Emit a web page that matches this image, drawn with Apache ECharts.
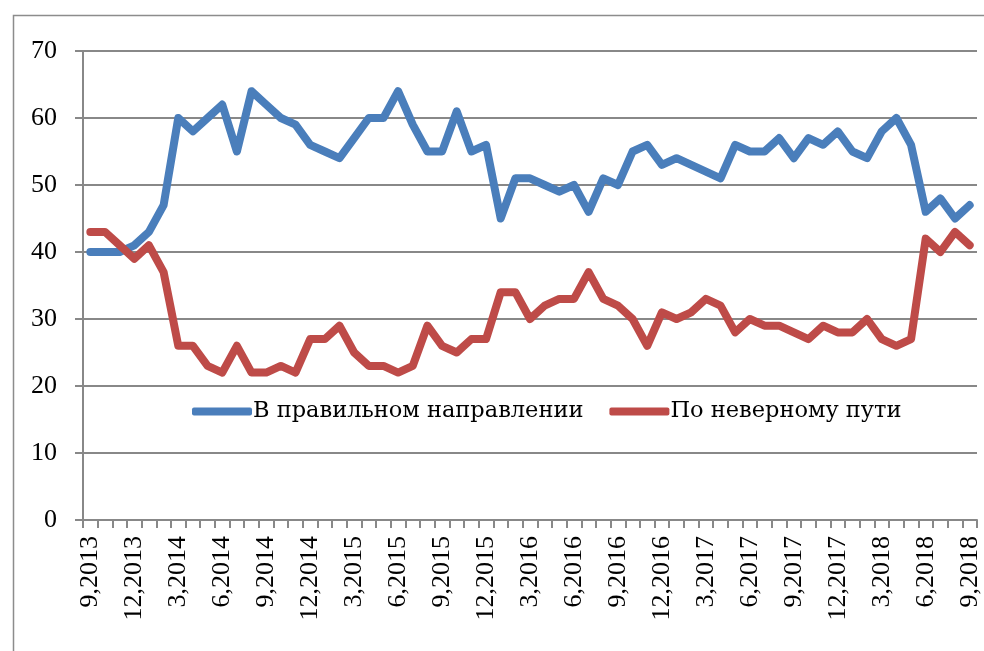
<!DOCTYPE html>
<html>
<head>
<meta charset="utf-8">
<script src="https://cdn.jsdelivr.net/npm/echarts@6/dist/echarts.min.js"></script>
<style>
html,body{margin:0;padding:0;background:#fff;}
#chart{width:984px;height:651px;}
</style>
</head>
<body>
<div id="chart"></div>
<script>
const categories = [
 '9,2013','10,2013','11,2013','12,2013','1,2014','2,2014','3,2014','4,2014','5,2014','6,2014','7,2014','8,2014',
 '9,2014','10,2014','11,2014','12,2014','1,2015','2,2015','3,2015','4,2015','5,2015','6,2015','7,2015','8,2015',
 '9,2015','10,2015','11,2015','12,2015','1,2016','2,2016','3,2016','4,2016','5,2016','6,2016','7,2016','8,2016',
 '9,2016','10,2016','11,2016','12,2016','1,2017','2,2017','3,2017','4,2017','5,2017','6,2017','7,2017','8,2017',
 '9,2017','10,2017','11,2017','12,2017','1,2018','2,2018','3,2018','4,2018','5,2018','6,2018','7,2018','8,2018',
 '9,2018'
];
const rightDirection = [
 40,40,40,41,43,47,60,58,60,62,55,64,
 62,60,59,56,55,54,57,60,60,64,59,55,
 55,61,55,56,45,51,51,50,49,50,46,51,
 50,55,56,53,54,53,52,51,56,55,55,57,
 54,57,56,58,55,54,58,60,56,46,48,45,
 47
];
const wrongPath = [
 43,43,41,39,41,37,26,26,23,22,26,22,
 22,23,22,27,27,29,25,23,23,22,23,29,
 26,25,27,27,34,34,30,32,33,33,37,33,
 32,30,26,31,30,31,33,32,28,30,29,29,
 28,27,29,28,28,30,27,26,27,42,40,43,
 41
];
const yTicks = [0,10,20,30,40,50,60,70];
const seriesNames = ['В правильном направлении','По неверному пути'];

const FONT = 'Liberation Serif';
const LEGEND_FONT = 'DejaVu Serif';
const chart = echarts.init(document.getElementById('chart'));
chart.setOption({
  animation:false,
  backgroundColor:'#fff',
  textStyle:{fontFamily:FONT},
  graphic:[{
    type:'rect', left:11, top:13, silent:true,
    shape:{x:0,y:0,width:1000,height:700},
    style:{fill:'none',stroke:'#8c8c8c',lineWidth:1.5}
  }],
  grid:{left:83,right:7,top:51,bottom:131,containLabel:false},
  legend:{
    left:187, top:395,
    itemWidth:60, itemHeight:8, itemGap:26,
    icon:'roundRect',
    textStyle:{fontFamily:LEGEND_FONT,fontSize:22.5,color:'#000',padding:[0,0,0,-4]},
    data:seriesNames
  },
  xAxis:{
    type:'category', data:categories, boundaryGap:true,
    axisLine:{lineStyle:{color:'#888',width:2}},
    axisTick:{show:true,interval:0,length:8,lineStyle:{color:'#888',width:2}},
    axisLabel:{interval:2,rotate:90,margin:16,fontFamily:FONT,fontSize:26,color:'#000'},
    splitLine:{show:false}
  },
  yAxis:{
    type:'value', min:yTicks[0], max:yTicks[yTicks.length-1], interval:10,
    axisLine:{show:true,lineStyle:{color:'#888',width:2}},
    axisTick:{show:true,length:8,lineStyle:{color:'#888',width:2}},
    axisLabel:{margin:26,fontFamily:FONT,fontSize:26,color:'#000'},
    splitLine:{lineStyle:{color:'#888',width:2}}
  },
  series:[
    {name:seriesNames[0],type:'line',data:rightDirection,symbol:'none',
     itemStyle:{color:'#4A7EBB'},
     lineStyle:{color:'#4A7EBB',width:8,cap:'round',join:'round'}},
    {name:seriesNames[1],type:'line',data:wrongPath,symbol:'none',
     itemStyle:{color:'#BE4B48'},
     lineStyle:{color:'#BE4B48',width:8,cap:'round',join:'round'}}
  ]
});
</script>
</body>
</html>
